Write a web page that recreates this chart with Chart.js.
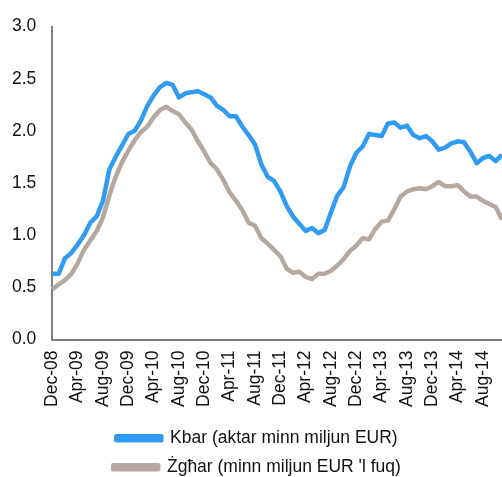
<!DOCTYPE html>
<html>
<head>
<meta charset="utf-8">
<script src="https://cdn.jsdelivr.net/npm/chart.js@4"></script>
<style>
    html, body { margin: 0; padding: 0; background: #fff; }
    #wrap { width: 502px; height: 477px; }
</style>
</head>
<body>
<div id="wrap"><canvas id="loansChart"></canvas></div>
<script>
// Monthly, Dec-08 .. Nov-14
const monthNames = ['Jan', 'Feb', 'Mar', 'Apr', 'May', 'Jun', 'Jul', 'Aug', 'Sep', 'Oct', 'Nov', 'Dec'];
let labels = [];
for (let i = 0; i < 72; i++) {
    let m = (11 + i) % 12;
    let y = 8 + Math.floor((11 + i) / 12);
    labels.push(`${monthNames[m]}-${y < 10 ? "0" : ""}${y}`);
}

const largeLoans = [
    0.63, 0.63, 0.78, 0.83, 0.91, 1.00, 1.12, 1.18, 1.33, 1.63, 1.75, 1.86,
    1.97, 2.00, 2.10, 2.24, 2.34, 2.42, 2.46, 2.44, 2.32, 2.36, 2.37, 2.38,
    2.35, 2.32, 2.24, 2.20, 2.14, 2.14, 2.04, 1.96, 1.87, 1.68, 1.56, 1.52,
    1.42, 1.28, 1.18, 1.11, 1.04, 1.07, 1.02, 1.05, 1.22, 1.38, 1.46, 1.66,
    1.79, 1.85, 1.97, 1.96, 1.95, 2.07, 2.08, 2.03, 2.05, 1.96, 1.93, 1.95,
    1.90, 1.82, 1.84, 1.88, 1.90, 1.89, 1.80, 1.69, 1.74, 1.76, 1.71, 1.77
];

const smallLoans = [
    0.48, 0.53, 0.57, 0.63, 0.73, 0.86, 0.95, 1.04, 1.17, 1.38, 1.56, 1.70,
    1.81, 1.91, 1.99, 2.04, 2.13, 2.20, 2.23, 2.19, 2.16, 2.08, 2.01, 1.90,
    1.80, 1.69, 1.63, 1.53, 1.41, 1.33, 1.24, 1.12, 1.09, 0.97, 0.92, 0.86,
    0.80, 0.68, 0.64, 0.65, 0.60, 0.58, 0.63, 0.63, 0.66, 0.71, 0.77, 0.85,
    0.90, 0.97, 0.96, 1.06, 1.13, 1.14, 1.25, 1.37, 1.42, 1.44, 1.45, 1.44,
    1.47, 1.51, 1.47, 1.47, 1.48, 1.42, 1.37, 1.37, 1.33, 1.30, 1.27, 1.15
];

const seriesNames = ['Kbar (aktar minn miljun EUR)', "Żgħar (minn miljun EUR 'l fuq)"];

Chart.defaults.font.family = "'Liberation Sans', Arial, sans-serif";
Chart.defaults.font.size = 17.5;
Chart.defaults.color = '#111';

let ctx = document.getElementById('loansChart').getContext('2d');
let loansChart = new Chart(ctx, {
    type: 'line',
    data: {
        labels: labels,
        datasets: [
            {
                label: seriesNames[0],
                data: largeLoans,
                borderColor: '#2f9bf3',
                backgroundColor: '#2f9bf3',
                borderWidth: 4.5,
                pointRadius: 0,
                tension: 0,
                borderJoinStyle: 'round'
            },
            {
                label: seriesNames[1],
                data: smallLoans,
                borderColor: '#b5a8a0',
                backgroundColor: '#b5a8a0',
                borderWidth: 4.5,
                pointRadius: 0,
                tension: 0,
                borderJoinStyle: 'round'
            }
        ]
    },
    options: {
        responsive: true,
        maintainAspectRatio: false,
        animation: false,
        layout: { padding: { top: 7, left: 12, right: 0, bottom: -9 } },
        plugins: {
            tooltip: { enabled: false },
            legend: {
                position: 'bottom',
                labels: {
                    boxWidth: 45,
                    boxHeight: 4,
                    padding: 11.5,
                    font: { size: 17.5 }
                }
            }
        },
        scales: {
            x: {
                offset: false,
                grid: { display: false, drawTicks: false },
                border: { display: true, color: '#808080', width: 2 },
                ticks: {
                    autoSkip: false,
                    minRotation: 90,
                    maxRotation: 90,
                    padding: 11,
                    callback: (val, idx) => idx % 4 === 0 ? labels[idx] : ''
                },
                afterFit: s => { s.paddingRight = 0; s.paddingLeft = 0; }
            },
            y: {
                min: 0,
                max: 3,
                grid: { display: false, drawTicks: false },
                border: { display: true, color: '#808080', width: 2 },
                ticks: {
                    stepSize: 0.5,
                    padding: 16,
                    callback: v => v.toFixed(1)
                },
                afterFit: s => { s.width -= 16; }
            }
        }
    }
});
</script>
</body>
</html>
